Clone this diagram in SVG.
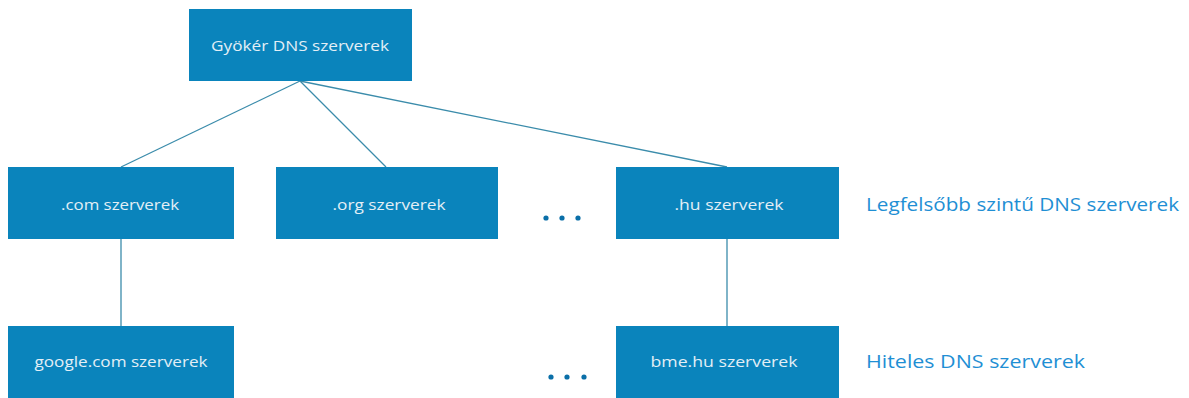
<svg xmlns="http://www.w3.org/2000/svg" width="1189" height="398" viewBox="0 0 1189 398">
<style>
.box{fill:#0a84bc;}
.bt{font-family:"Open Sans","Liberation Sans",sans-serif;font-size:15px;fill:#e3eff6;text-anchor:middle;}
.lbl{font-family:"Open Sans","Liberation Sans",sans-serif;font-size:18px;fill:#1f8fd4;}
.ln{stroke:#3b8cab;stroke-width:1.3;fill:none;}
.dot{fill:#0a6fa8;}
</style>
<rect width="1189" height="398" fill="#ffffff"/>
<g id="connectors">
<line class="ln" x1="300" y1="81" x2="121" y2="167"/>
<line class="ln" x1="300" y1="81" x2="386" y2="167"/>
<line class="ln" x1="300" y1="81" x2="727" y2="167"/>
<line class="ln" x1="121" y1="239" x2="121" y2="326"/>
<line class="ln" x1="727" y1="239" x2="727" y2="326"/>
</g>
<g id="root">
<rect class="box" x="189" y="9" width="223" height="72"/>
<text class="bt" x="300" y="51" textLength="178" lengthAdjust="spacingAndGlyphs">Gyökér DNS szerverek</text>
</g>
<g id="com">
<rect class="box" x="8" y="167" width="226" height="72"/>
<text class="bt" x="120" y="210" textLength="118" lengthAdjust="spacingAndGlyphs">.com szerverek</text>
</g>
<g id="org">
<rect class="box" x="276" y="167" width="222" height="72"/>
<text class="bt" x="389" y="210" textLength="113" lengthAdjust="spacingAndGlyphs">.org szerverek</text>
</g>
<g id="dots1">
<circle class="dot" cx="546" cy="218" r="2.6"/>
<circle class="dot" cx="562" cy="218" r="2.6"/>
<circle class="dot" cx="578" cy="218" r="2.6"/>
</g>
<g id="hu">
<rect class="box" x="616" y="167" width="223" height="72"/>
<text class="bt" x="729" y="210" textLength="109" lengthAdjust="spacingAndGlyphs">.hu szerverek</text>
</g>
<g id="label-tld">
<text class="lbl" x="866" y="211" textLength="313" lengthAdjust="spacingAndGlyphs">Legfelsőbb szintű DNS szerverek</text>
</g>
<g id="google">
<rect class="box" x="8" y="326" width="226" height="72"/>
<text class="bt" x="121" y="367" textLength="173" lengthAdjust="spacingAndGlyphs">google.com szerverek</text>
</g>
<g id="dots2">
<circle class="dot" cx="551" cy="377" r="2.6"/>
<circle class="dot" cx="567" cy="377" r="2.6"/>
<circle class="dot" cx="584" cy="377" r="2.6"/>
</g>
<g id="bme">
<rect class="box" x="616" y="326" width="223" height="72"/>
<text class="bt" x="724" y="367" textLength="147" lengthAdjust="spacingAndGlyphs">bme.hu szerverek</text>
</g>
<g id="label-auth">
<text class="lbl" x="866" y="368" textLength="219" lengthAdjust="spacingAndGlyphs">Hiteles DNS szerverek</text>
</g>
</svg>
